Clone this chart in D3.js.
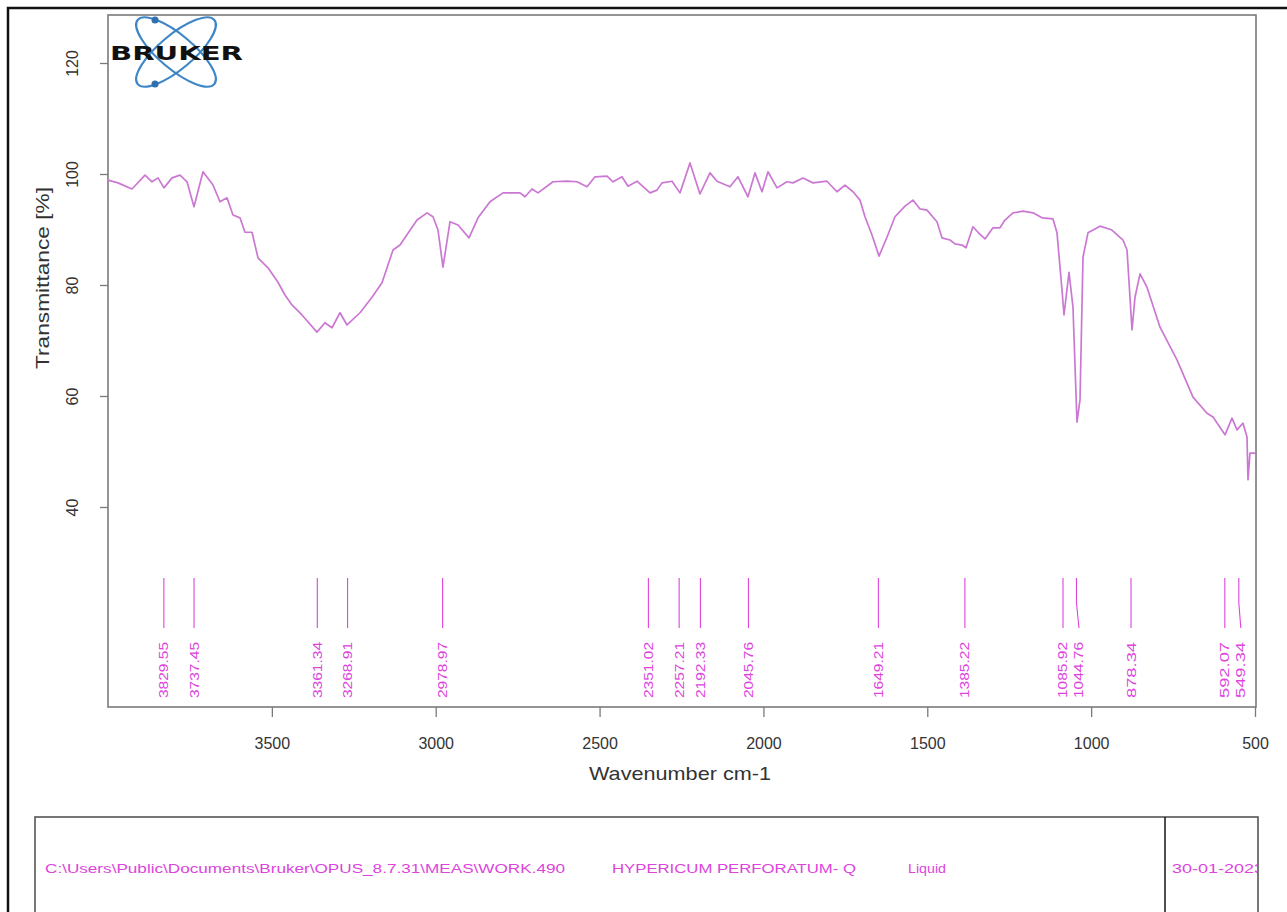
<!DOCTYPE html>
<html>
<head>
<meta charset="utf-8">
<script src="https://cdn.jsdelivr.net/npm/d3@7"></script>
<style>
  body { margin: 0; background: #fff; }
  svg { display: block; font-family: "Liberation Sans", Arial, sans-serif; }
</style>
</head>
<body>
<div class="ir-plot"></div>
<script>
// Spectrum (wavenumber cm-1, transmittance %)
const wavenumbers = [4000, 3969.5, 3926.8, 3887.1, 3865.7, 3847.4, 3829.1, 3804.7, 3780.3, 3758.9,
  3737.6, 3710.1, 3679.6, 3658.2, 3636.9, 3618.6, 3597.2, 3582.0, 3560.6, 3542.3,
  3511.8, 3481.3, 3459.9, 3438.6, 3408.1, 3362.3, 3338.2, 3316.5, 3292.1, 3270.7,
  3231.0, 3194.4, 3163.9, 3130.3, 3109.0, 3057.1, 3026.6, 3008.3, 2993.0, 2977.8,
  2956.4, 2932.0, 2898.4, 2871.0, 2834.4, 2794.7, 2742.8, 2727.6, 2706.2, 2687.9,
  2642.1, 2599.4, 2568.9, 2538.4, 2513.9, 2477.3, 2459.0, 2431.6, 2413.3, 2385.8,
  2346.1, 2324.8, 2309.5, 2279.0, 2254.6, 2224.1, 2193.6, 2163.1, 2141.7, 2102.1,
  2077.7, 2047.1, 2025.8, 2004.4, 1986.0, 1958.6, 1928.1, 1909.8, 1879.3, 1848.8,
  1806.1, 1775.6, 1751.1, 1726.7, 1705.3, 1690.1, 1668.7, 1647.4, 1623.0, 1598.6,
  1568.0, 1543.6, 1522.3, 1500.9, 1470.4, 1455.2, 1430.7, 1415.5, 1394.1, 1381.9,
  1360.6, 1345.3, 1323.9, 1299.5, 1278.2, 1262.9, 1238.5, 1208.0, 1177.4, 1150.0,
  1116.4, 1104.2, 1088.9, 1082.8, 1067.6, 1055.4, 1043.2, 1034.0, 1024.9, 1009.7,
  973.1, 936.5, 902.8, 890.5, 875.3, 866.2, 850.9, 829.6, 789.9, 738.0,
  689.2, 646.4, 628.1, 591.5, 570.2, 554.9, 536.6, 524.4, 521.4, 515.3, 500.0];

const transmittance = [98.9, 98.4, 97.3, 99.8, 98.6, 99.3, 97.5, 99.3, 99.8, 98.6,
  94.1, 100.4, 98.0, 95.0, 95.7, 92.6, 92.1, 89.5, 89.5, 84.9,
  83.1, 80.5, 78.2, 76.4, 74.6, 71.5, 73.2, 72.3, 75.0, 72.8,
  75.0, 77.8, 80.4, 86.3, 87.2, 91.7, 93.0, 92.3, 89.9, 83.2,
  91.4, 90.8, 88.5, 92.1, 95.0, 96.6, 96.6, 95.9, 97.3, 96.6,
  98.6, 98.7, 98.6, 97.7, 99.5, 99.6, 98.6, 99.5, 97.8, 98.7,
  96.6, 97.1, 98.4, 98.7, 96.6, 102.0, 96.4, 100.2, 98.7, 97.7,
  99.5, 95.9, 100.2, 96.8, 100.4, 97.5, 98.6, 98.4, 99.3, 98.4,
  98.7, 96.8, 98.0, 96.8, 95.3, 92.3, 89.0, 85.2, 88.6, 92.3,
  94.2, 95.3, 93.7, 93.5, 91.4, 88.5, 88.1, 87.4, 87.2, 86.7,
  90.5, 89.5, 88.3, 90.3, 90.3, 91.7, 93.0, 93.3, 93.0, 92.1,
  91.9, 89.4, 79.1, 74.6, 82.3, 76.0, 55.3, 59.3, 85.0, 89.4,
  90.6, 89.9, 88.1, 86.3, 71.9, 77.8, 82.0, 79.6, 72.4, 66.5,
  59.8, 56.9, 56.2, 53.0, 56.0, 53.9, 55.1, 52.6, 44.9, 49.7, 49.7];

// Picked peaks
const peakPositions = [3829.55, 3737.45, 3361.34, 3268.91, 2978.97, 2351.02, 2257.21, 2192.33,
  2045.76, 1649.21, 1385.22, 1085.92, 1044.76, 878.34, 592.07, 549.34];

const xTickValues = [3500, 3000, 2500, 2000, 1500, 1000, 500];
const yTickValues = [40, 60, 80, 100, 120];

const footerTexts = ["C:\\Users\\Public\\Documents\\Bruker\\OPUS_8.7.31\\MEAS\\WORK.490",
  "HYPERICUM PERFORATUM- Q", "Liquid", "30-01-2023"];

const W = 1287, H = 912;
const PLOT = { LEFT: 108, RIGHT: 1256, TOP: 15, BOTTOM: 707 };
const CURVE = "#cb78d3";
const PINK = "#dc44dc";
const FRAME = "#7a7a7a";

const svg = d3.select(".ir-plot").append("svg").attr("width", W).attr("height", H);

// outer page frame
svg.append("rect")
  .attr("x", 8).attr("y", 8)
  .attr("width", W + 20).attr("height", H + 20)
  .attr("fill", "none")
  .attr("stroke", "#111")
  .attr("stroke-width", 2.5);

// scales
const xScale = d3.scaleLinear()
  .domain([4000, 500])
  .range([PLOT.LEFT, PLOT.RIGHT - 1]);

const yScale = d3.scaleLinear()
  .domain([3.96, 128.65])
  .range([PLOT.BOTTOM, PLOT.TOP]);

// axes
const xAxis = svg.append("g")
  .attr("transform", `translate(0, ${PLOT.BOTTOM})`)
  .call(d3.axisBottom(xScale).tickValues(xTickValues).tickSize(10).tickPadding(21).tickFormat(d3.format("d")));

const yAxis = svg.append("g")
  .attr("transform", `translate(${PLOT.LEFT}, 0)`)
  .call(d3.axisLeft(yScale).tickValues(yTickValues).tickSize(8).tickFormat(d3.format("d")));

[xAxis, yAxis].forEach(g => {
  g.select(".domain").remove();
  g.selectAll(".tick line").attr("stroke", FRAME).attr("stroke-width", 1.3);
  g.selectAll(".tick text").attr("fill", "#333").attr("font-size", 16);
});

// rotate y tick labels like the OPUS printout
yAxis.selectAll(".tick text")
  .attr("x", null).attr("dy", null)
  .attr("text-anchor", "middle")
  .attr("transform", "translate(-36, 0) rotate(-90)")
  .attr("y", 5.5);

// plot frame
svg.append("rect")
  .attr("x", PLOT.LEFT).attr("y", PLOT.TOP)
  .attr("width", PLOT.RIGHT - PLOT.LEFT)
  .attr("height", PLOT.BOTTOM - PLOT.TOP)
  .attr("fill", "none")
  .attr("stroke", FRAME)
  .attr("stroke-width", 1.6);

// axis titles
svg.append("text")
  .attr("x", 680).attr("y", 780)
  .attr("text-anchor", "middle")
  .attr("font-size", 19)
  .attr("textLength", 182)
  .attr("lengthAdjust", "spacingAndGlyphs")
  .attr("fill", "#333")
  .text("Wavenumber cm-1");

svg.append("text")
  .attr("transform", "translate(49, 278) rotate(-90)")
  .attr("text-anchor", "middle")
  .attr("font-size", 19)
  .attr("textLength", 182)
  .attr("lengthAdjust", "spacingAndGlyphs")
  .attr("fill", "#333")
  .text("Transmittance [%]");

// logo
const logo = svg.append("g");
logo.append("ellipse")
  .attr("cx", 176).attr("cy", 52).attr("rx", 50).attr("ry", 17)
  .attr("transform", "rotate(40 176 52)")
  .attr("fill", "none").attr("stroke", "#3f86c8").attr("stroke-width", 2.2);
logo.append("ellipse")
  .attr("cx", 176).attr("cy", 52).attr("rx", 50).attr("ry", 17)
  .attr("transform", "rotate(-40 176 52)")
  .attr("fill", "none").attr("stroke", "#3f86c8").attr("stroke-width", 2.2);
logo.selectAll("circle").data([20, 84]).join("circle")
  .attr("cx", 155).attr("cy", d => d).attr("r", 3.5)
  .attr("fill", "#2f6fae");
logo.append("text")
  .attr("x", 110).attr("y", 60)
  .attr("font-family", "DejaVu Sans")
  .attr("font-weight", "bold")
  .attr("font-size", 19)
  .attr("textLength", 133)
  .attr("lengthAdjust", "spacingAndGlyphs")
  .attr("fill", "#111")
  .text("BRUKER");

// spectrum
const line = d3.line()
  .x((d, i) => xScale(wavenumbers[i]))
  .y(d => yScale(d));

svg.append("path")
  .datum(transmittance)
  .attr("fill", "none")
  .attr("stroke", CURVE)
  .attr("stroke-width", 1.7)
  .attr("stroke-linejoin", "round")
  .attr("d", line);

// peak markers, labels pushed apart when too close
const labelX = [];
peakPositions.forEach((p, i) => {
  let lx = xScale(p);
  if (i > 0 && lx - labelX[i - 1] < 16) lx = labelX[i - 1] + 16;
  labelX.push(lx);
});

const peaks = svg.append("g");
peaks.selectAll("path")
  .data(peakPositions)
  .join("path")
  .attr("fill", "none")
  .attr("stroke", PINK)
  .attr("stroke-width", 1.1)
  .attr("d", (d, i) => `M${xScale(d)},578 L${xScale(d)},603 L${labelX[i]},628`);

peaks.selectAll("text")
  .data(peakPositions)
  .join("text")
  .attr("transform", (d, i) => `translate(${labelX[i] + 4.5}, 698) rotate(-90)`)
  .attr("font-size", 12.5)
  .attr("textLength", 56)
  .attr("lengthAdjust", "spacingAndGlyphs")
  .attr("fill", PINK)
  .text(d => d.toFixed(2));

// footer box
svg.append("rect")
  .attr("x", 35).attr("y", 817)
  .attr("width", 1223).attr("height", 120)
  .attr("fill", "none")
  .attr("stroke", "#555")
  .attr("stroke-width", 1.6);
svg.append("line")
  .attr("x1", 1165).attr("x2", 1165)
  .attr("y1", 817).attr("y2", H)
  .attr("stroke", "#222")
  .attr("stroke-width", 1.6);

const footerX = [45, 612, 908, 1172];
const footerLen = [520, 244, 38, 92];
const footerClip = svg.append("clipPath").attr("id", "footer-clip");
footerClip.append("rect").attr("x", 35).attr("y", 817).attr("width", 1222).attr("height", 100);

svg.append("g")
  .attr("clip-path", "url(#footer-clip)")
  .selectAll("text")
  .data(footerTexts)
  .join("text")
  .attr("x", (d, i) => footerX[i])
  .attr("y", 873)
  .attr("font-size", 12)
  .attr("textLength", (d, i) => footerLen[i])
  .attr("lengthAdjust", "spacingAndGlyphs")
  .attr("fill", PINK)
  .text(d => d);
</script>
</body>
</html>
